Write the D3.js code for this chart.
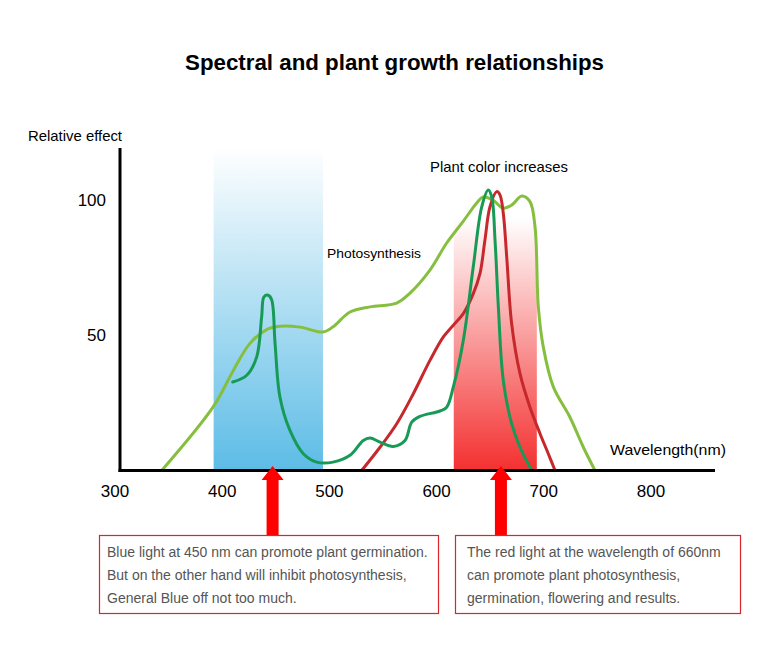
<!DOCTYPE html>
<html><head><meta charset="utf-8">
<script src="https://cdn.jsdelivr.net/npm/d3@7"></script>
<style>body{margin:0;background:#fff}svg{display:block}text{font-family:"Liberation Sans",Arial,sans-serif}</style>
</head><body><svg id="c" width="783" height="651"></svg>
<script>
const title = "Spectral and plant growth relationships";
const xTicks = [300, 400, 500, 600, 700, 800];
const yTicks = [50, 100];
// light green: photosynthesis
const photoWl  = [343.6,391.4,410.4,425.9,441.5,453.9,472.6,494,503.4,519.2,537.9,562.8,575.2,593.8,609.4,624.6,637.4,643.3,652.6,661.9,670,679.4,687.1,691.8,694.9,699.5,708.9,724.4,736.9,747.8];
const photoVal = [0,23.4,37,47,52.1,53.3,53,51.2,53.1,58.6,60.5,61.9,65.6,74.1,84.1,92,98.9,101.1,100,97,98.1,101.5,99.4,90.1,60.5,45.7,30.9,19.7,8.6,0];
// dark green: chlorophyll-like curve
const chloWl  = [409.8,422.9,432.2,436.8,439,443,446.2,449.3,453.9,463.2,475.7,488.2,503.4,519.2,531.6,537.9,547.2,559.6,570.5,576.8,584.5,603.2,609.4,615.6,624.9,634.2,642.1,648.2,651.4,654.5,657.6,662.2,670,677.8,688.7];
const chloVal = [32.7,35.2,42,56.8,64.2,64.8,63,47,27.1,14.8,6.2,3.1,3.1,5.6,11.1,12,10.5,8.9,11.1,17.9,20,22,23.4,30.9,48.1,75.3,97.5,103.7,101.2,85.2,60.5,33.3,17.3,8.6,0];
// red: plant colour curve
const redWl  = [530.1,547.2,562.8,578.3,593.8,606.3,615.6,624.9,634.2,640.5,645.1,649.8,656.1,659.1,662.2,665.4,670,677.8,687.1,696.5,704.2,710.5];
const redVal = [0,8.6,17.3,28.4,40.7,49.4,53.7,58,65.4,72.9,85.2,97.5,103.1,101.9,95.1,79,54.3,35.8,23.4,13.6,6.2,0];
const bandBlue = [392, 494];
const bandRed = [616, 693.5];
const arrowWl = [447, 660];
const notes = [
  ["Blue light at 450 nm can promote plant germination.", "But on the other hand will inhibit photosynthesis,", "General Blue off not too much."],
  ["The red light at the wavelength of 660nm", "can promote plant photosynthesis,", "germination, flowering and results."]
];

const svg = d3.select("#c");
const x = d3.scaleLinear().domain([300, 800]).range([115, 651]);
const y = d3.scaleLinear().domain([0, 100]).range([470.5, 200]);

const defs = svg.append("defs");
const gb = defs.append("linearGradient").attr("id","gb").attr("x1",0).attr("y1",0).attr("x2",0).attr("y2",1);
gb.append("stop").attr("offset","0").attr("stop-color","#5cbce6").attr("stop-opacity",0);
gb.append("stop").attr("offset","0.35").attr("stop-color","#5cbce6").attr("stop-opacity",0.35);
gb.append("stop").attr("offset","1").attr("stop-color","#5cbce6").attr("stop-opacity",1);
const gr = defs.append("linearGradient").attr("id","gr").attr("x1",0).attr("y1",0).attr("x2",0).attr("y2",1);
gr.append("stop").attr("offset","0").attr("stop-color","#f43030").attr("stop-opacity",0);
gr.append("stop").attr("offset","1").attr("stop-color","#f43030").attr("stop-opacity",1);

svg.append("text").attr("x",185).attr("y",70)
  .attr("font-size",22).attr("font-weight","bold").attr("fill","#000")
  .attr("textLength",419).attr("lengthAdjust","spacingAndGlyphs").text(title);

svg.append("rect").attr("x",x(bandBlue[0])).attr("width",x(bandBlue[1])-x(bandBlue[0]))
  .attr("y",148).attr("height",470.5-148).attr("fill","url(#gb)");
svg.append("rect").attr("x",x(bandRed[0])).attr("width",x(bandRed[1])-x(bandRed[0]))
  .attr("y",218).attr("height",470.5-218).attr("fill","url(#gr)");

const line = d3.line().x(d=>x(d[0])).y(d=>y(d[1])).curve(d3.curveCatmullRom.alpha(0.5));
function draw(wl, val, color){
  svg.append("path").datum(wl.map((w,i)=>[w,val[i]])).attr("d",line)
    .attr("fill","none").attr("stroke",color).attr("stroke-width",3).attr("stroke-linejoin","round").attr("stroke-linecap","round");
}
draw(photoWl, photoVal, "#86bf3f");
draw(redWl, redVal, "#c6282b");
draw(chloWl, chloVal, "#179a56");

// axes
svg.append("line").attr("x1",120).attr("x2",120).attr("y1",148).attr("y2",472).attr("stroke","#000").attr("stroke-width",3);
svg.append("line").attr("x1",118.5).attr("x2",715).attr("y1",470.5).attr("y2",470.5).attr("stroke","#000").attr("stroke-width",3);

svg.selectAll(".xt").data(xTicks).enter().append("text")
  .attr("x",d=>x(d)).attr("y",497).attr("text-anchor","middle").attr("font-size",17).attr("fill","#000").text(d=>d);
svg.selectAll(".yt").data(yTicks).enter().append("text")
  .attr("x",106).attr("y",d=>y(d)+6).attr("text-anchor","end").attr("font-size",17).attr("fill","#000").text(d=>d);

function label(t, x0, y0, fs, len){
  svg.append("text").attr("x",x0).attr("y",y0).attr("font-size",fs).attr("fill","#000")
    .attr("textLength",len).attr("lengthAdjust","spacingAndGlyphs").text(t);
}
label("Relative effect", 28, 141, 14.5, 94);
label("Plant color increases", 430, 172, 14.5, 138);
label("Photosynthesis", 327, 258, 13.5, 94);
label("Wavelength(nm)", 610, 455, 14.5, 116);

// arrows
arrowWl.forEach(w=>{
  const cx = x(w);
  const p = d3.path();
  p.moveTo(cx, 466); p.lineTo(cx+11, 480); p.lineTo(cx+6, 480); p.lineTo(cx+6, 536);
  p.lineTo(cx-6, 536); p.lineTo(cx-6, 480); p.lineTo(cx-11, 480); p.closePath();
  svg.append("path").attr("d",p.toString()).attr("fill","#ff0000");
});

// boxes
const boxes = [{x0:99.5,x1:438.5,tx:107},{x0:455.5,x1:740.5,tx:467}];
boxes.forEach((b,i)=>{
  svg.append("rect").attr("x",b.x0).attr("y",535.5).attr("width",b.x1-b.x0).attr("height",78)
    .attr("fill","#fff").attr("stroke","#d9262a").attr("stroke-width",1.2);
  notes[i].forEach((t,j)=>{
    svg.append("text").attr("x",b.tx).attr("y",557+j*23).attr("font-size",14).attr("fill","#555").text(t);
  });
});
</script></body></html>
